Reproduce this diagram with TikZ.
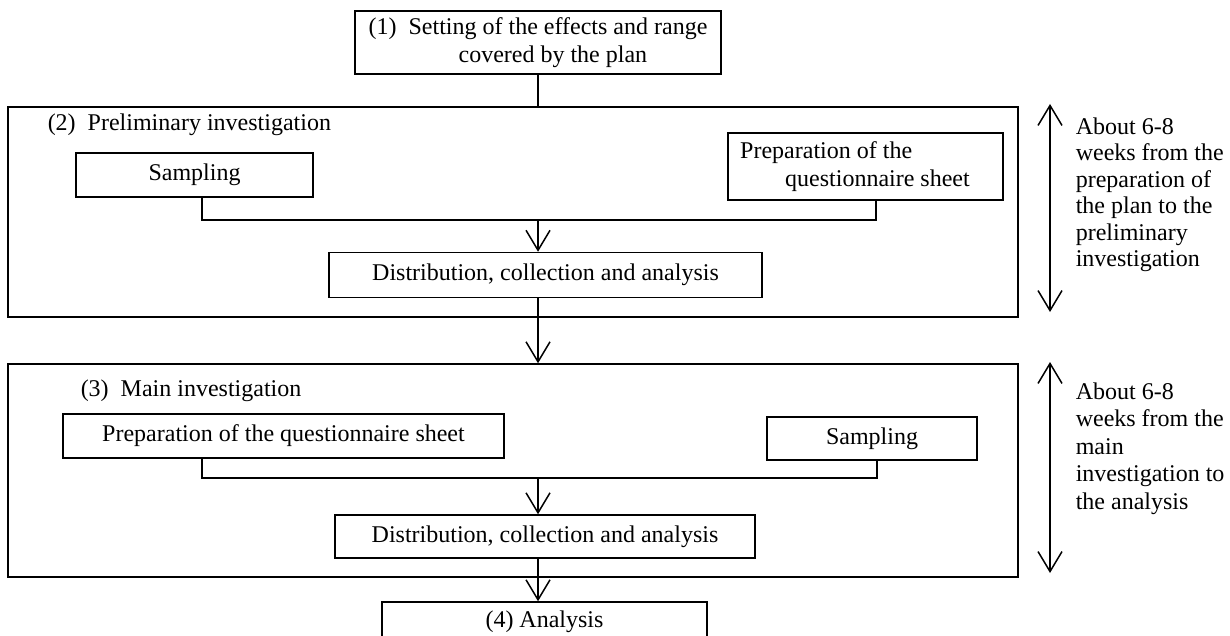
\documentclass[tikz,border=0pt]{standalone}
\usepackage{fontspec}
\setmainfont{Liberation Serif}
\usetikzlibrary{arrows.meta}

\begin{document}
\begin{tikzpicture}[
  x=1pt, y=-1pt,
  box/.style={draw, line width=1.5pt, inner sep=0pt, font=\fontsize{24}{28}\selectfont},
  frame/.style={draw, line width=1.5pt, inner sep=0pt},
  lbl/.style={anchor=west, inner sep=0pt, font=\fontsize{24}{28}\selectfont},
  note/.style={anchor=north west, align=left, inner sep=0pt},
  flow/.style={-{Straight Barb[length=20pt, width=24pt]}},
  span/.style={{Straight Barb[length=20pt, width=24pt]}-{Straight Barb[length=20pt, width=24pt]}},
  line width=1.5pt
]
  \useasboundingbox (0,0) rectangle (1230,636);
  \clip (0,0) rectangle (1230,636);

  % (1)
  \node[box, minimum width=366pt, minimum height=63pt, align=left] (plan) at (538,42.5)
    {(1)~~Setting of the effects and range\\\hspace*{90pt}covered by the plan};

  % (2) preliminary investigation
  \node[frame, minimum width=1010pt, minimum height=210pt] (prelim) at (513,212) {};
  \node[lbl] (prelimlbl) at (47,125) {(2)~~Preliminary investigation};
  \node[box, minimum width=237pt, minimum height=44pt] (samp2) at (194.5,175) {Sampling};
  \node[box, minimum width=275pt, minimum height=67pt, align=left] (prep2) at (865.5,166.5)
    {Preparation of the\\\hspace*{45pt}questionnaire sheet\hspace*{21pt}};
  \node[box, minimum width=433pt, minimum height=45pt] (dist2) at (545.5,275) {Distribution, collection and analysis};
  \coordinate (j2) at (538,220);

  % (3) main investigation
  \node[frame, minimum width=1010pt, minimum height=213pt] (main) at (513,470.5) {};
  \node[lbl] (mainlbl) at (80,391) {(3)~~Main investigation};
  \node[box, minimum width=441pt, minimum height=44pt] (prep3) at (283.5,436) {Preparation of the questionnaire sheet};
  \node[box, minimum width=210pt, minimum height=43pt] (samp3) at (872,438.5) {Sampling};
  \node[box, minimum width=420pt, minimum height=43pt] (dist3) at (545,536.5) {Distribution, collection and analysis};
  \coordinate (j3) at (538,478);

  % (4)
  \node[box, minimum width=325pt, minimum height=40pt] (analysis) at (544.5,622) {(4) Analysis};

  % connectors
  \draw (plan.south -| j2) -- (j2 |- prelim.north);
  \draw ([xshift=7.5pt]samp2.south) |- (j2) -| ([xshift=10.5pt]prep2.south);
  \draw[flow] (j2) -- (j2 |- dist2.north);
  \draw[flow] (j2 |- dist2.south) -- (j2 |- main.north);
  \draw ([xshift=-81.5pt]prep3.south) |- (j3) -| ([xshift=5pt]samp3.south);
  \draw[flow] (j3) -- (j3 |- dist3.north);
  \draw[flow] (j3 |- dist3.south) -- (j3 |- analysis.north);

  % durations
  \coordinate (d2top) at (1050,104);
  \coordinate (d2bot) at (1050,312);
  \coordinate (d3top) at (1050,362);
  \coordinate (d3bot) at (1050,573);
  \draw[span] (d2top) -- (d2bot);
  \draw[span] (d3top) -- (d3bot);
  \node[note, font=\fontsize{24}{26.5}\selectfont] (dur2) at (1075,117)
    {About 6-8\\weeks from the\\preparation of\\the plan to the\\preliminary\\investigation};
  \node[note, font=\fontsize{24}{27.5}\selectfont] (dur3) at (1075,382)
    {About 6-8\\weeks from the\\main\\investigation to\\the analysis};
\end{tikzpicture}
\end{document}
